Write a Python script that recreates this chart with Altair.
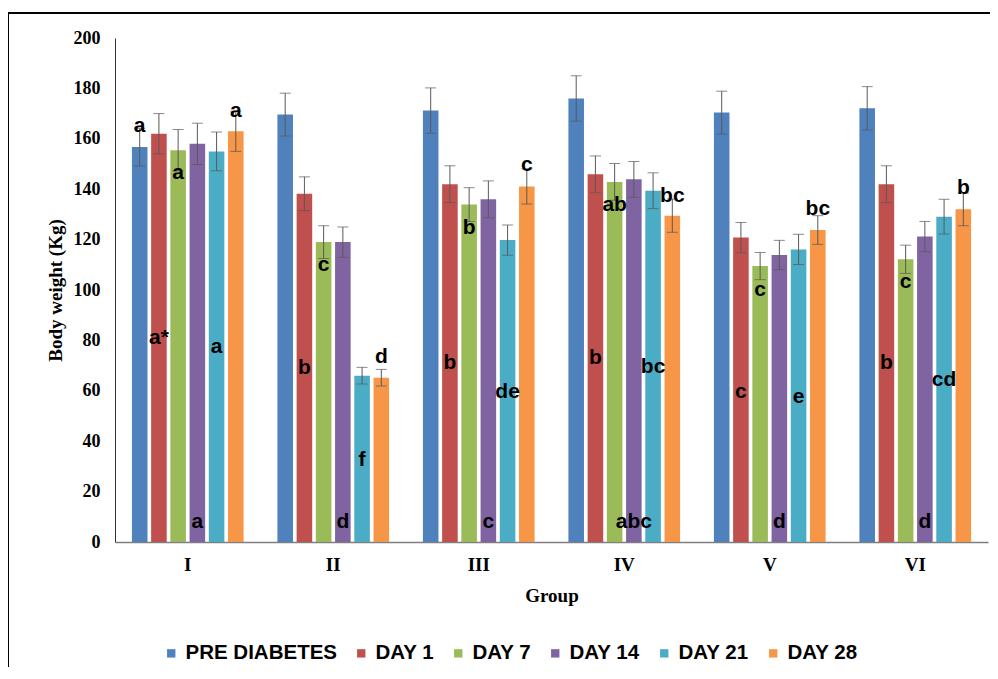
import altair as alt
import pandas as pd

groups = ["I", "II", "III", "IV", "V", "VI"]
series = ["PRE DIABETES", "DAY 1", "DAY 7", "DAY 14", "DAY 21", "DAY 28"]
colors = ["#4F81BD", "#C0504D", "#9BBB59", "#8064A2", "#4BACC6", "#F79646"]

# mean body weight per series, across groups I..VI
pre_diabetes = [156.7, 169.6, 171.2, 176.0, 170.4, 172.1]
day_1 = [162.0, 138.2, 142.0, 145.9, 120.8, 142.0]
day_7 = [155.5, 119.0, 133.9, 142.9, 109.5, 112.2]
day_14 = [158.0, 119.0, 136.0, 143.9, 113.9, 121.2]
day_21 = [155.0, 66.0, 119.8, 139.4, 116.1, 129.1]
day_28 = [163.0, 65.2, 141.1, 129.5, 123.8, 132.0]

# error (+/-)
err_pre = [7.5, 8.5, 9.0, 9.0, 8.5, 8.6]
err_d1 = [8.0, 6.7, 7.3, 7.3, 6.0, 7.3]
err_d7 = [8.2, 6.5, 6.7, 7.3, 5.4, 5.6]
err_d14 = [8.2, 6.0, 7.3, 7.1, 5.8, 6.0]
err_d21 = [7.7, 3.3, 6.0, 7.1, 6.0, 6.9]
err_d28 = [8.0, 3.3, 7.0, 6.6, 5.7, 6.5]

# significance letters and the value at which each letter sits
let_pre = ["a", "", "", "", "", ""]
let_d1 = ["a*", "b", "b", "b", "c", "b"]
let_d7 = ["a", "c", "b", "ab", "c", "c"]
let_d14 = ["a", "d", "c", "abc", "d", "d"]
let_d21 = ["a", "f", "de", "bc", "e", "cd"]
let_d28 = ["a", "d", "c", "bc", "bc", "b"]

lpos_pre = [165.0, 0, 0, 0, 0, 0]
lpos_d1 = [81.0, 69.0, 71.0, 72.9, 59.7, 71.0]
lpos_d7 = [146.4, 110.0, 124.5, 133.7, 100.0, 103.0]
lpos_d14 = [8.0, 8.0, 8.0, 8.0, 8.0, 8.0]
lpos_d21 = [77.5, 32.5, 59.7, 69.6, 57.7, 64.3]
lpos_d28 = [171.0, 73.5, 149.6, 137.3, 132.1, 140.4]

vals = [pre_diabetes, day_1, day_7, day_14, day_21, day_28]
errs = [err_pre, err_d1, err_d7, err_d14, err_d21, err_d28]
lets = [let_pre, let_d1, let_d7, let_d14, let_d21, let_d28]
lposs = [lpos_pre, lpos_d1, lpos_d7, lpos_d14, lpos_d21, lpos_d28]

rows = []
for si, s in enumerate(series):
    for gi, g in enumerate(groups):
        v = vals[si][gi]
        e = errs[si][gi]
        rows.append({
            "group": g, "series": s, "value": v,
            "lo": v - e, "hi": v + e,
            "letter": lets[si][gi], "lpos": lposs[si][gi],
        })
df = pd.DataFrame(rows)

serif = "Liberation Serif"
sans = "Liberation Sans"

x_enc = alt.X(
    "group:N", sort=groups,
    scale=alt.Scale(paddingInner=0, paddingOuter=0),
    axis=alt.Axis(
        title="Group", labelAngle=0, ticks=False, grid=False,
        domainColor="#7f7f7f", domainWidth=1.5,
        labelFont=serif, labelFontWeight="bold", labelFontSize=19, labelColor="black",
        labelPadding=13,
        titleFont=serif, titleFontWeight="bold", titleFontSize=19, titleColor="black",
        titlePadding=12,
    ),
)
xo_enc = alt.XOffset("series:N", sort=series,
                     scale=alt.Scale(paddingInner=0.19, paddingOuter=0.88))

base = alt.Chart(df)

bars = base.mark_bar().encode(
    x=x_enc,
    xOffset=xo_enc,
    y=alt.Y(
        "value:Q",
        scale=alt.Scale(domain=[0, 200], nice=False),
        axis=alt.Axis(
            title="Body weight (Kg)", values=list(range(0, 201, 20)),
            ticks=False, grid=False, domainColor="#333333", domainWidth=1,
            labelFont=serif, labelFontWeight="bold", labelFontSize=18, labelColor="black",
            labelPadding=15,
            titleFont=serif, titleFontWeight="bold", titleFontSize=19, titleColor="black",
            titlePadding=8,
        ),
    ),
    color=alt.Color(
        "series:N", sort=series,
        scale=alt.Scale(domain=series, range=colors),
        legend=alt.Legend(
            title=None, orient="none", legendX=46, legendY=605,
            direction="horizontal", columns=6,
            symbolType="square", symbolSize=70, symbolStrokeWidth=0,
            labelFont=sans, labelFontWeight="bold", labelFontSize=20.5, labelColor="black",
            columnPadding=14, labelOffset=4,
        ),
    ),
)

err_rule = base.mark_rule(color="#595959", strokeWidth=1).encode(
    x=alt.X("group:N", sort=groups), xOffset=xo_enc,
    y="lo:Q", y2="hi:Q",
)
cap_lo = base.mark_tick(color="#595959", thickness=1, size=11).encode(
    x=alt.X("group:N", sort=groups), xOffset=xo_enc, y="lo:Q",
)
cap_hi = base.mark_tick(color="#595959", thickness=1, size=11).encode(
    x=alt.X("group:N", sort=groups), xOffset=xo_enc, y="hi:Q",
)

letters = base.mark_text(
    font=sans, fontWeight="bold", fontSize=21, color="black", baseline="middle"
).encode(
    x=alt.X("group:N", sort=groups), xOffset=xo_enc,
    y="lpos:Q", text="letter:N",
)

frame_left = alt.Chart(df).mark_rule(color="black", strokeWidth=1.3).encode(
    x=alt.value(-107), y=alt.value(-25), y2=alt.value(700)
)
frame_top = alt.Chart(df).mark_rule(color="black", strokeWidth=1.3).encode(
    x=alt.value(-107), x2=alt.value(900), y=alt.value(-25)
)

chart = alt.layer(bars, err_rule, cap_lo, cap_hi, letters, frame_left, frame_top).properties(
    width=873, height=504,
    autosize=alt.AutoSizeParams(type="none"),
    padding={"left": 107, "top": 30, "right": 2, "bottom": 125},
).configure_view(strokeWidth=0)

chart.save("out.html", embed_options={"renderer": "svg", "actions": False})
